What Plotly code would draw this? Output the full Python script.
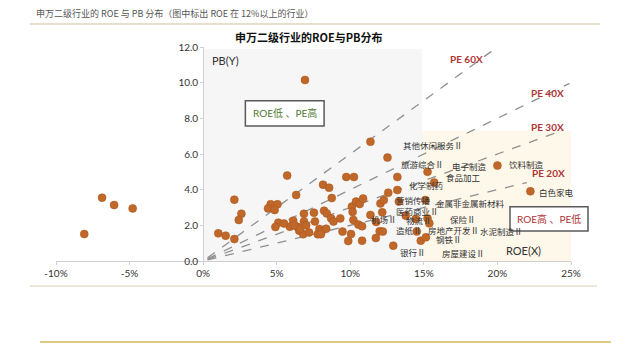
import plotly.graph_objects as go

# ROE (%) and PB of Shenwan level-2 industries
roe = [-8.08, -6.87, -6.05, -4.79, 6.92, 11.37, 12.53, 5.71, 9.73, 10.25, 13.2, 8.15, 8.56, 6.32,
       8.74, 2.12, 4.59, 5.05, 4.41, 4.86, 2.6, 2.42, 5.11, 4.91, 1.03, 1.53, 2.12, 6.12, 5.89,
       6.39, 6.53, 6.8, 6.85, 6.85, 7.53, 7.6, 7.79, 7.9, 8.06, 8.22, 8.4, 8.7, 8.36, 8.86, 9.32,
       9.47, 9.86, 10.05, 10.11, 10.16, 10.21, 10.39, 10.64, 10.87, 10.55, 10.8, 10.8, 11.37,
       11.76, 11.74, 12.05, 12.28, 12.17, 12.0, 12.21, 12.58, 12.92, 13.2, 15.25, 15.7, 20.0,
       22.24, 15.1, 15.25, 13.3, 13.77, 14.45, 14.52, 14.79, 15.14, 15.37,
       6.2, 6.6, 7.2, 7.0, 8.0, 5.5]
pb = [1.51, 3.55, 3.14, 2.95, 10.15, 6.69, 5.8, 4.79, 4.71, 4.71, 4.71, 4.28, 4.11, 3.7,
      3.53, 3.44, 3.18, 3.18, 2.95, 2.86, 2.65, 2.3, 2.15, 1.91, 1.55, 1.42, 1.23, 2.26, 1.92,
      1.92, 1.7, 1.5, 2.65, 2.22, 2.71, 2.22, 1.5, 1.8, 1.67, 2.82, 2.67, 2.39, 1.81, 2.21, 2.39,
      1.65, 1.12, 1.51, 3.05, 2.75, 2.3, 3.33, 3.2, 3.5, 2.04, 1.95, 1.14, 2.58,
      2.19, 1.29, 3.23, 3.42, 2.73, 1.67, 1.65, 3.83, 0.86, 3.98, 5.0, 4.4, 5.35,
      3.91, 3.42, 2.39, 3.33, 2.54, 2.36, 1.65, 1.14, 1.33, 2.11,
      2.0, 1.8, 1.6, 2.0, 1.5, 2.1]

# labelled industries (ROE > 12%) : name, label x (ROE %), label y (PB)
label_names = ["其他休闲服务Ⅱ", "旅游综合Ⅱ", "电子制造", "食品加工", "饮料制造", "化学制药", "白色家电",
               "营销传播", "医药商业Ⅱ", "金属非金属新材料", "机场Ⅱ", "物流Ⅱ", "保险Ⅱ", "造纸Ⅱ",
               "房地产开发Ⅱ", "水泥制造Ⅱ", "钢铁Ⅱ", "银行Ⅱ", "房屋建设Ⅱ"]
label_x = [13.42, 13.29, 16.78, 16.37, 20.62, 13.84, 22.67, 12.95, 12.95, 15.68, 11.3, 13.63,
           16.64, 12.95, 15.14, 18.7, 15.68, 13.22, 16.1]
label_y = [6.5, 5.44, 5.33, 4.71, 5.44, 4.26, 3.87, 3.4, 2.8, 3.25, 2.36, 2.3, 2.36, 1.74,
           1.74, 1.68, 1.23, 0.5, 0.45]

# PE reference lines: multiple, end ROE, label position
pe_names = ["PE 60X", "PE 40X", "PE 30X", "PE 20X"]
pe_mult = [60, 40, 30, 20]
pe_end = [20.0, 24.9, 24.5, 22.0]
pe_lab_x = [17.9, 23.4, 23.4, 23.5]
pe_lab_y = [11.33, 9.42, 7.5, 4.94]

x_ticks = [-10, -5, 0, 5, 10, 15, 20, 25]
y_ticks = [0, 2, 4, 6, 8, 10, 12]

CJK = "Noto Sans CJK SC"
LAT = "Lato, Noto Sans CJK SC"

fig = go.Figure()

# PE lines
for n, m, e in zip(pe_names, pe_mult, pe_end):
    fig.add_trace(go.Scatter(x=[0.3, e], y=[0.3 * m / 100, e * m / 100], mode="lines",
                             line=dict(color="#909090", width=1.3, dash="dash"),
                             hoverinfo="skip", showlegend=False))

fig.add_trace(go.Scatter(x=roe, y=pb, mode="markers",
                         marker=dict(color="#c0672a", size=8, line=dict(color="#a8561c", width=0.5)),
                         showlegend=False, cliponaxis=False))

L, R, T, B = 56, 69, 47, 86
W, H = 640, 347
pw, ph = W - L - R, H - T - B

def px_x(p):
    return (p - L) / pw

def px_y(p):
    return (H - B - p) / ph

shapes = [
    # grey region (low ROE, high PE)
    dict(type="rect", xref="x", yref="y", x0=0, x1=14.9, y0=0, y1=11.9,
         fillcolor="#f6f6f6", line=dict(width=0), layer="below"),
    # beige region (high ROE, low PE)
    dict(type="rect", xref="x", yref="y", x0=14.9, x1=25, y0=0, y1=7.3,
         fillcolor="#fef8ea", line=dict(width=0), layer="below"),
    # box ROE低
    dict(type="rect", xref="x", yref="y", x0=2.87, x1=8.22, y0=7.57, y1=8.99,
         fillcolor="white", line=dict(color="#595959", width=1.5)),
    # box ROE高
    dict(type="rect", xref="paper", yref="paper", x0=px_x(510), x1=px_x(588),
         y0=px_y(231), y1=px_y(206.7), fillcolor="white", line=dict(color="#595959", width=1.5)),
    # header rule
    dict(type="line", xref="paper", yref="paper", x0=px_x(30), x1=px_x(600),
         y0=px_y(24), y1=px_y(24), line=dict(color="#cdbf98", width=1)),
    # bottom rules
    dict(type="line", xref="paper", yref="paper", x0=px_x(30), x1=px_x(597),
         y0=px_y(286), y1=px_y(286), line=dict(color="#d8cfb5", width=1)),
    dict(type="line", xref="paper", yref="paper", x0=px_x(40), x1=px_x(611),
         y0=px_y(342), y1=px_y(342), line=dict(color="#d4b85a", width=1.5)),
]

ann = []
for n, x, y in zip(label_names, label_x, label_y):
    ann.append(dict(x=x, y=y, xref="x", yref="y", text=n, showarrow=False, xanchor="left",
                    yanchor="middle", font=dict(family=CJK, size=8.5, color="#333333")))
for n, x, y in zip(pe_names, pe_lab_x, pe_lab_y):
    ann.append(dict(x=x, y=y, xref="x", yref="y", text="<b>" + n + "</b>", showarrow=False,
                    xanchor="center", font=dict(family=LAT, size=10, color="#b03535")))
ann += [
    dict(x=5.55, y=8.28, xref="x", yref="y", text="ROE低 、PE高", showarrow=False,
         xanchor="center", font=dict(family=LAT, size=10, color="#4f7a35")),
    dict(x=px_x(549), y=px_y(219), xref="paper", yref="paper", text="ROE高 、PE低", showarrow=False,
         xanchor="center", yanchor="middle", font=dict(family=LAT, size=10, color="#b03535")),
    dict(x=0.45, y=11.27, xref="x", yref="y", text="PB(Y)", showarrow=False, xanchor="left",
         font=dict(family=LAT, size=11, color="#333333")),
    dict(x=20.48, y=0.6, xref="x", yref="y", text="ROE(X)", showarrow=False, xanchor="left",
         font=dict(family=LAT, size=11, color="#333333")),
    dict(x=px_x(309), y=px_y(37), xref="paper", yref="paper", text="<b>申万二级行业的ROE与PB分布</b>",
         showarrow=False, xanchor="center", yanchor="middle",
         font=dict(family=CJK, size=11, color="#111111")),
    dict(x=px_x(34), y=px_y(14), xref="paper", yref="paper", xanchor="left", yanchor="middle",
         text="申万二级行业的 ROE 与 PB 分布（图中标出 ROE 在 12%以上的行业）",
         showarrow=False, font=dict(family=CJK, size=9, color="#555555")),
]

fig.update_layout(
    width=W, height=H, margin=dict(l=L, r=R, t=T, b=B),
    paper_bgcolor="white", plot_bgcolor="white",
    shapes=shapes, annotations=ann,
    xaxis=dict(range=[-10, 25], tickvals=x_ticks, ticktext=[f"{v}%" for v in x_ticks],
               showgrid=False, zeroline=False, showline=True, linecolor="#d0d0d0",
               ticks="outside", ticklen=3, tickcolor="#d0d0d0",
               tickfont=dict(family=LAT, size=10, color="#333333")),
    yaxis=dict(range=[0, 12], tickvals=y_ticks, ticktext=[f"{v:.1f}" for v in y_ticks],
               anchor="free", position=10 / 35, showgrid=False, zeroline=False,
               showline=True, linecolor="#d0d0d0", ticks="outside", ticklen=3, tickcolor="#d0d0d0",
               tickfont=dict(family=LAT, size=10, color="#333333")),
)

fig.write_html("out.html")
